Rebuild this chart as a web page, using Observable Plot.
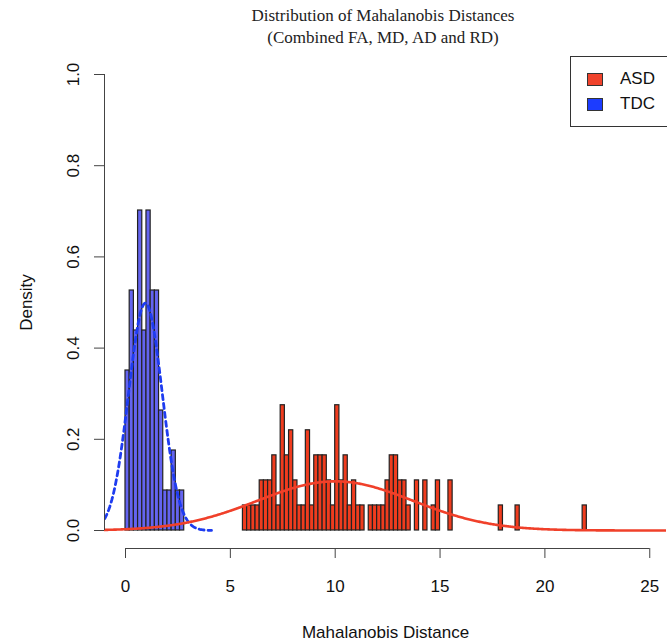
<!DOCTYPE html>
<html><head><meta charset="utf-8">
<script src="https://cdn.jsdelivr.net/npm/d3@7"></script>
<script src="https://cdn.jsdelivr.net/npm/@observablehq/plot@0.6"></script>
<style>
body{margin:0;background:#fff;overflow:hidden}
#wrap{position:relative;width:667px;height:643px;overflow:hidden;background:#fff}
#title{position:absolute;left:0;top:5px;width:766px;text-align:center;font-family:"Liberation Serif","Times New Roman",serif;font-size:17px;line-height:22px;color:#222}
#chart{position:absolute;left:0;top:56px}
#legend{position:absolute;left:570px;top:56px;width:120px;height:69px;border:1px solid #333;font-family:"Liberation Sans",Arial,sans-serif;font-size:17px;color:#111}
.row{position:absolute;left:16px;display:flex;align-items:center;height:20px}
.sw{width:14px;height:11px;border:1px solid #333;margin-right:17px}
</style></head><body>
<div id="wrap">
<div id="title"></div>
<div id="chart"></div>
<div id="legend"></div>
</div>
<script>
// ---- data ----
const titleLines = ["Distribution of Mahalanobis Distances", "(Combined FA, MD, AD and RD)"];
const xLabel = "Mahalanobis Distance";
const yLabel = "Density";
const xTicks = [0, 5, 10, 15, 20, 25];
const yTicks = [0, 0.2, 0.4, 0.6, 0.8, 1.0];
const groups = ["ASD", "TDC"];
const binWidth = 0.2;
const tdcBins = [0.0, 0.2, 0.4, 0.6, 0.8, 1.0, 1.2, 1.4, 1.6, 1.8, 2.0, 2.2, 2.4, 2.6];
const tdcCounts = [4, 6, 5, 8, 5, 8, 6, 6, 3, 1, 1, 2, 1, 1];
const asdBins = [5.6, 5.8, 6.0, 6.2, 6.4, 6.6, 6.8, 7.0, 7.2, 7.4, 7.6, 7.8, 8.0, 8.2, 8.4, 8.6, 8.8, 9.0, 9.2, 9.4,
  9.6, 9.8, 10.0, 10.2, 10.4, 10.6, 10.8, 11.0, 11.2, 11.6, 11.8, 12.0, 12.2, 12.4, 12.6, 12.8, 13.0, 13.2, 13.4,
  13.8, 14.2, 14.6, 14.8, 15.4, 17.8, 18.6, 21.8];
const asdCounts = [1, 1, 1, 1, 2, 2, 2, 3, 1, 5, 3, 4, 2, 1, 1, 4, 1, 3, 3, 3,
  2, 1, 5, 2, 3, 1, 2, 1, 1, 1, 1, 1, 1, 2, 3, 3, 2, 2, 1,
  2, 2, 1, 2, 2, 1, 1, 1];
// fitted normal curves: [mean, sd, drawn from, drawn to]
const tdcFit = [0.95, 0.8, -1.0, 4.1];
const asdFit = [10.0, 3.7, -1.1, 26.2];

// ---- build tables ----
function hist(bins, counts) {
  const n = d3.sum(counts);
  return bins.map((b, i) => ({x1: b, x2: b + binWidth, d: counts[i] / (n * binWidth)}));
}
const tdc = hist(tdcBins, tdcCounts);
const asd = hist(asdBins, asdCounts);
const dnorm = ([m, s, a, b]) => d3.range(a, b + 0.001, 0.05)
  .map(x => ({x, y: Math.exp(-0.5 * ((x - m) / s) ** 2) / (s * Math.sqrt(2 * Math.PI))}));
const tdcCurve = dnorm(tdcFit);
const asdCurve = dnorm(asdFit);

const colors = {ASD: "#f0432c", TDC: "#1c3cff"};

document.getElementById("title").innerHTML = titleLines.map(t => `<div>${t}</div>`).join("");
document.getElementById("legend").innerHTML = groups.map((g, i) =>
  `<div class="row" style="top:${12 + i * 25}px"><div class="sw" style="background:${colors[g]}"></div><span>${g}</span></div>`).join("");

const chart = Plot.plot({
  width: 667, height: 587,
  marginLeft: 104, marginRight: 1, marginTop: 0, marginBottom: 95,
  x: {domain: [0, 25], range: [125, 649.25]},
  y: {domain: [0, 1], range: [474, 18]},
  style: {fontFamily: "'Liberation Sans', Arial, sans-serif", fontSize: "17px", color: "#111", background: "transparent"},
  marks: [
    Plot.rectY(tdc, {x1: "x1", x2: "x2", y: "d", fill: "#6464f0", stroke: "#222", strokeWidth: 1.2}),
    Plot.rectY(asd, {x1: "x1", x2: "x2", y: "d", fill: "#f03c1e", stroke: "#222", strokeWidth: 1.2}),
    Plot.line(tdcCurve, {x: "x", y: "y", stroke: "#1e3cf0", strokeWidth: 2.8, strokeDasharray: "5,4", clip: true}),
    Plot.line(asdCurve, {x: "x", y: "y", stroke: "#f0402a", strokeWidth: 2.6, clip: true}),
    Plot.ruleX([xTicks[0]], {y1: yTicks[0], y2: yTicks.at(-1), dx: -21, stroke: "#444"}),
    Plot.axisY({ticks: yTicks, tickSize: 10, tickPadding: 16, tickRotate: -90, tickFormat: d3.format(".1f"), anchor: "left", label: null, stroke: "#444"}),
    Plot.ruleY([yTicks[0]], {x1: xTicks[0], x2: xTicks.at(-1), dy: 18, stroke: "#444"}),
    Plot.axisX({ticks: xTicks, tickSize: 10, tickPadding: 21, anchor: "bottom", label: null, stroke: "#444"}),
    Plot.text([xLabel], {frameAnchor: "bottom", dy: 84, textAnchor: "middle", lineAnchor: "middle", fontSize: 17}),
    Plot.text([yLabel], {frameAnchor: "left", dx: -78, rotate: -90, textAnchor: "middle", lineAnchor: "middle", fontSize: 17})
  ]
});
document.getElementById("chart").append(chart);
</script>
</body></html>
